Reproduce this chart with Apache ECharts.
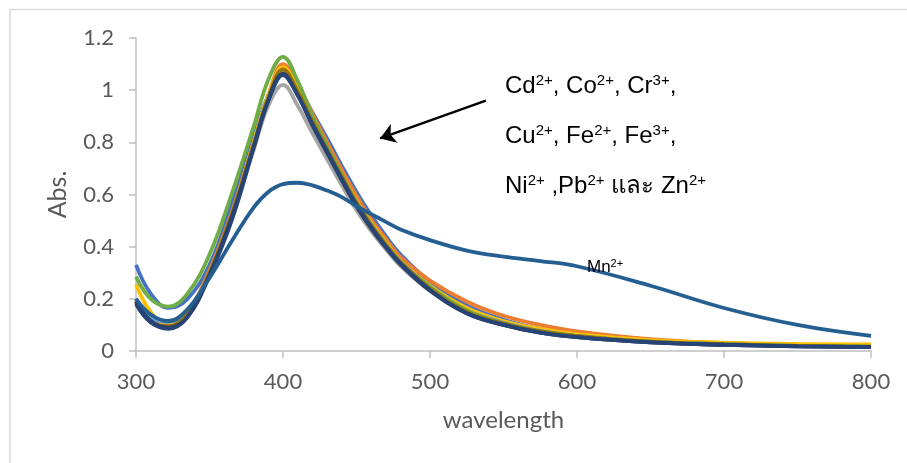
<!DOCTYPE html>
<html>
<head>
<meta charset="utf-8">
<script src="https://cdn.jsdelivr.net/npm/echarts@6/dist/echarts.min.js"></script>
<style>
  html, body { margin: 0; padding: 0; background: #fff; }
  #chart { width: 907px; height: 463px; }
</style>
</head>
<body>
<div id="chart"></div>
<script>
// wavelength (nm) sampled along the spectra
const wavelength = [300, 310, 322, 335, 350, 365, 380, 390, 400, 410, 420, 430, 440, 450, 460, 470, 480, 500, 525, 550, 575, 600, 650, 700, 750, 800];

// absorbance per ion
const absBlue   = [0.33, 0.22, 0.165, 0.2, 0.33, 0.56, 0.82, 0.98, 1.07, 1.01, 0.915, 0.815, 0.71, 0.61, 0.52, 0.44, 0.37, 0.265, 0.175, 0.12, 0.085, 0.063, 0.038, 0.027, 0.02, 0.017];
const absOrange = [0.2, 0.12, 0.1, 0.15, 0.31, 0.53, 0.8, 0.98, 1.1, 1.025, 0.91, 0.8, 0.695, 0.595, 0.505, 0.43, 0.36, 0.27, 0.19, 0.135, 0.1, 0.075, 0.045, 0.03, 0.022, 0.018];
const absGray   = [0.19, 0.11, 0.09, 0.135, 0.29, 0.5, 0.77, 0.94, 1.02, 0.94, 0.835, 0.735, 0.635, 0.54, 0.46, 0.39, 0.325, 0.23, 0.145, 0.1, 0.07, 0.053, 0.033, 0.024, 0.018, 0.015];
const absGold   = [0.255, 0.15, 0.1, 0.14, 0.3, 0.52, 0.8, 0.98, 1.088, 1.005, 0.89, 0.78, 0.675, 0.575, 0.49, 0.415, 0.345, 0.25, 0.165, 0.115, 0.085, 0.065, 0.042, 0.032, 0.027, 0.025];
const absSky    = [0.2, 0.13, 0.112, 0.15, 0.3, 0.52, 0.79, 0.97, 1.07, 0.99, 0.88, 0.775, 0.67, 0.57, 0.485, 0.41, 0.343, 0.245, 0.155, 0.108, 0.077, 0.058, 0.036, 0.026, 0.02, 0.016];
const absGreen  = [0.285, 0.2, 0.17, 0.22, 0.37, 0.6, 0.86, 1.04, 1.128, 1.035, 0.9, 0.785, 0.675, 0.57, 0.485, 0.41, 0.34, 0.245, 0.155, 0.105, 0.075, 0.057, 0.035, 0.026, 0.02, 0.017];
const absOlive  = [0.185, 0.11, 0.095, 0.14, 0.3, 0.52, 0.79, 0.97, 1.08, 0.995, 0.88, 0.772, 0.668, 0.567, 0.482, 0.407, 0.34, 0.24, 0.15, 0.105, 0.075, 0.057, 0.036, 0.026, 0.02, 0.017];
const absDark   = [0.19, 0.115, 0.09, 0.13, 0.29, 0.51, 0.78, 0.96, 1.062, 0.98, 0.865, 0.76, 0.655, 0.555, 0.47, 0.397, 0.332, 0.232, 0.145, 0.1, 0.07, 0.053, 0.033, 0.024, 0.018, 0.015];
const absNavy   = [0.18, 0.11, 0.085, 0.13, 0.29, 0.5, 0.78, 0.96, 1.058, 0.98, 0.87, 0.765, 0.66, 0.56, 0.475, 0.4, 0.335, 0.234, 0.145, 0.1, 0.07, 0.053, 0.033, 0.024, 0.018, 0.015];
const absMn     = [0.2, 0.14, 0.115, 0.16, 0.28, 0.42, 0.55, 0.61, 0.64, 0.645, 0.635, 0.615, 0.59, 0.555, 0.525, 0.495, 0.466, 0.425, 0.385, 0.362, 0.345, 0.325, 0.25, 0.165, 0.1, 0.058];

const xTicks = [300, 400, 500, 600, 700, 800];
const yTicks = [0, 0.2, 0.4, 0.6, 0.8, 1, 1.2];

const spectra = [
  { name: 'Cd', color: '#4472C4', values: absBlue },
  { name: 'Co', color: '#ED7D31', values: absOrange },
  { name: 'Cr', color: '#A5A5A5', values: absGray },
  { name: 'Cu', color: '#FFC000', values: absGold },
  { name: 'Fe2', color: '#5B9BD5', values: absSky },
  { name: 'Fe3', color: '#70AD47', values: absGreen },
  { name: 'Ni', color: '#997300', values: absOlive },
  { name: 'Pb', color: '#2F3B5C', values: absDark },
  { name: 'Zn', color: '#264478', values: absNavy },
  { name: 'Mn', color: '#255E91', values: absMn }
];

const labelFont = 'Lato, "Open Sans", sans-serif';
const noteFont = '"Liberation Sans", Arial, sans-serif';

const noteRich = {
  n: { fontSize: 24, fontFamily: noteFont, color: '#000', lineHeight: 27 },
  s: { fontSize: 15, fontFamily: noteFont, color: '#000', lineHeight: 15, verticalAlign: 'top' }
};
const mnRich = {
  n: { fontSize: 17, fontFamily: noteFont, color: '#000', lineHeight: 19 },
  s: { fontSize: 11, fontFamily: noteFont, color: '#000', lineHeight: 11, verticalAlign: 'top' }
};

const noteLine = (y, text) => ({
  type: 'text', left: 505, top: y, z: 100,
  style: { text: text, rich: noteRich }
});

const getOption = () => {
  const series = spectra.map((s, i) => ({
    name: s.name,
    type: 'line',
    smooth: 0.4,
    symbol: 'none',
    z: 2 + i,
    lineStyle: { color: s.color, width: 3.8 },
    itemStyle: { color: s.color },
    data: wavelength.map((w, k) => [w, s.values[k]])
  }));

  // the arrow pointing at the bundle of curves
  series[series.length - 1].markLine = {
    silent: true,
    symbol: ['none', 'arrow'],
    symbolSize: 15,
    label: { show: false },
    lineStyle: { color: '#000', width: 2.5, type: 'solid' },
    data: [[{ coord: [538, 0.96] }, { coord: [466, 0.815] }]]
  };

  return {
    animation: false,
    backgroundColor: '#fff',
    grid: { left: 136, right: 36, top: 38, bottom: 112 },
    xAxis: {
      type: 'value',
      min: xTicks[0],
      max: xTicks[xTicks.length - 1],
      interval: 100,
      name: 'wavelength',
      nameLocation: 'middle',
      nameGap: 57,
      nameTextStyle: { fontFamily: labelFont, fontSize: 24, color: '#595959' },
      splitLine: { show: false },
      axisLine: { show: true, lineStyle: { color: '#c0c0c0', width: 1.5 } },
      axisTick: { show: true, length: 7, lineStyle: { color: '#c0c0c0', width: 1.5 } },
      axisLabel: { margin: 20, fontFamily: labelFont, fontSize: 22, color: '#595959' }
    },
    yAxis: {
      type: 'value',
      min: yTicks[0],
      max: yTicks[yTicks.length - 1],
      interval: 0.2,
      name: 'Abs.',
      nameLocation: 'middle',
      nameGap: 66,
      nameTextStyle: { fontFamily: labelFont, fontSize: 25, color: '#595959' },
      splitLine: { show: false },
      axisLine: { show: true, lineStyle: { color: '#c0c0c0', width: 1.5 } },
      axisTick: { show: true, length: 7, lineStyle: { color: '#c0c0c0', width: 1.5 } },
      axisLabel: { margin: 22, fontFamily: labelFont, fontSize: 22, color: '#595959' }
    },
    graphic: [
      {
        type: 'rect', z: -1, silent: true,
        shape: { x: 10, y: 9.5, width: 1000, height: 1000 },
        style: { fill: 'none', stroke: '#d9d9d9', lineWidth: 1.5 }
      },
      noteLine(73, '{n|Cd}{s|2+}{n|, Co}{s|2+}{n|, Cr}{s|3+}{n|,}'),
      noteLine(123, '{n|Cu}{s|2+}{n|, Fe}{s|2+}{n|, Fe}{s|3+}{n|,}'),
      noteLine(173, '{n|Ni}{s|2+}{n| ,Pb}{s|2+}{n| และ Zn}{s|2+}'),
      {
        type: 'text', left: 587, top: 258, z: 100,
        style: { text: '{n|Mn}{s|2+}', rich: mnRich }
      }
    ],
    series: series
  };
};

const initCharts = () => {
  const chart = echarts.init(document.getElementById('chart'));
  chart.setOption(getOption());
};

window.addEventListener('load', () => {
  initCharts();
});
</script>
</body>
</html>
